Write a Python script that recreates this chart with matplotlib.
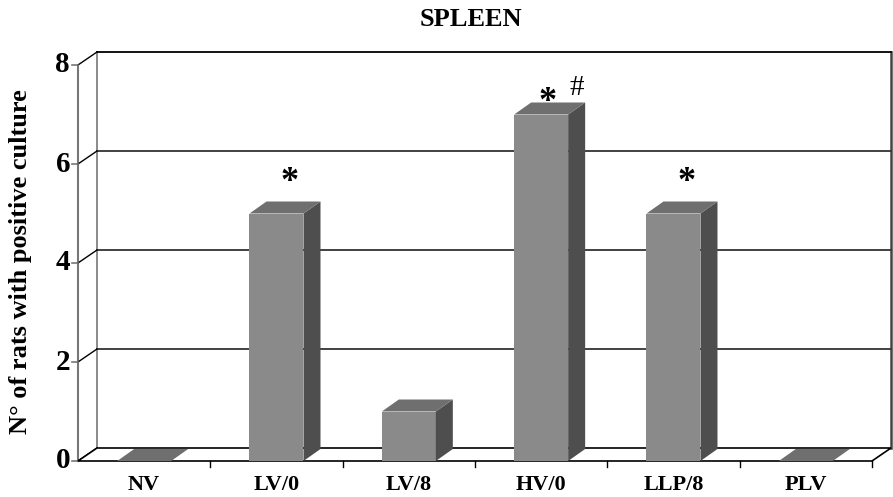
import matplotlib.pyplot as plt
from matplotlib.patches import Polygon

groups = ['NV', 'LV/0', 'LV/8', 'HV/0', 'LLP/8', 'PLV']
positives = [0, 5, 1, 7, 5, 0]
yticks = [0, 2, 4, 6, 8]
# significance marks: (group index, mark, height of mark)
marks = [(1, '*', 5.62), (3, '*', 7.25), (4, '*', 5.62)]
hash_mark = (3, '#', 7.53)

plt.rcParams['font.family'] = ['Liberation Serif', 'DejaVu Serif']
plt.rcParams['font.weight'] = 'bold'

fig = plt.figure(figsize=(8.93, 4.97), dpi=100)
ax = fig.add_axes([0, 0, 1, 1])
ax.set_xlim(-78 / 132.33, (893 - 78) / 132.33)
ax.set_ylim(-(497 - 461) / 49.5, 461 / 49.5)
ax.axis('off')

n = len(groups)
top = 8
dx, dy = 19 / 132.33, 13 / 49.5      # depth of the box
bdx, bdy = 17 / 132.33, 12 / 49.5    # depth of the bars
w = 54 / 132.33

front_c, side_c, top_c = '#8a8a8a', '#4e4e4e', '#6f6f6f'

# back wall
ax.add_patch(Polygon([(dx, dy), (n + dx, dy), (n + dx, top + dy), (dx, top + dy)],
                     closed=True, fc='white', ec='none', zorder=1))
ax.plot([dx, dx], [dy, top + dy], color='#777777', lw=1.2, zorder=2)
ax.plot([n + dx, n + dx], [dy, top + dy], color='#444444', lw=1.8, zorder=2)
for t in yticks[1:-1]:
    ax.plot([dx, n + dx], [t + dy, t + dy], color='#333333', lw=1.3, zorder=2)
ax.plot([dx, n + dx], [top + dy, top + dy], color='black', lw=1.3, zorder=2)

# left wall
ax.plot([0, 0], [0, top], color='#777777', lw=1.5, zorder=2)
for t in yticks:
    ax.plot([0, dx], [t, t + dy], color='black', lw=1.0, zorder=2)
    ax.plot([-0.045, 0], [t, t], color='#777777', lw=1.2, zorder=2)
    ax.text(-0.06, t, str(t), ha='right', va='center', fontsize=21, fontweight='bold')

# floor
ax.add_patch(Polygon([(0, 0), (n, 0), (n + dx, dy), (dx, dy)],
                     closed=True, fc='white', ec='black', lw=1.2, zorder=3))
for i in range(1, n + 1):
    ax.plot([i, i], [0, -0.12], color='black', lw=1.0, zorder=3)

# bars
for i, v in enumerate(positives):
    x0 = i + 0.5 - w / 2
    x1 = x0 + w
    if v > 0:
        ax.add_patch(Polygon([(x0, 0), (x1, 0), (x1, v), (x0, v)], closed=True,
                             fc=front_c, ec='none', zorder=5))
        ax.add_patch(Polygon([(x1, 0), (x1 + bdx, bdy), (x1 + bdx, v + bdy), (x1, v)],
                             closed=True, fc=side_c, ec='none', zorder=5))
    ax.add_patch(Polygon([(x0, v), (x1, v), (x1 + bdx, v + bdy), (x0 + bdx, v + bdy)],
                         closed=True, fc=top_c, ec='none', zorder=5))
    ax.text(i + 0.5, -0.49, groups[i], ha='center', va='center', fontsize=16, fontweight='bold')

for i, m, h in marks:
    off = 0.05 if i == hash_mark[0] else 0.1
    ax.text(i + 0.5 + off, h, m, ha='center', va='center', fontsize=26, fontweight='bold')
i, m, h = hash_mark
ax.text(i + 0.5 + 0.27, h, m, ha='center', va='center', fontsize=21, fontweight='normal')

fig.text(471 / 893, 1 - 20 / 497, 'SPLEEN', ha='center', va='center', fontsize=19, fontweight='bold')
fig.text(21 / 893, 1 - 262 / 497, 'N° of rats with positive culture', rotation=90,
         ha='center', va='center', fontsize=19, fontweight='bold')

fig.savefig('out.png', dpi=100)
